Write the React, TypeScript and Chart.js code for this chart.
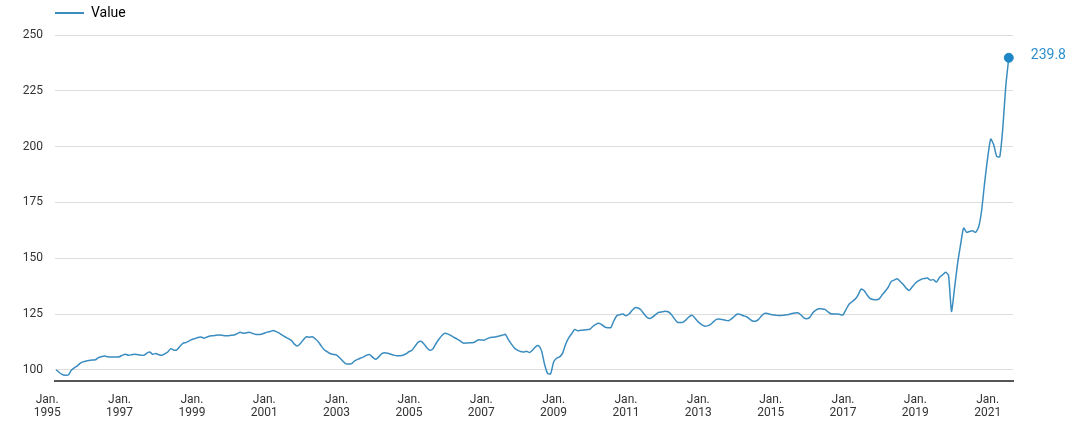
import React, { useEffect, useRef } from "react";
import { Chart, registerables } from "chart.js";

Chart.register(...registerables);

// Monthly index values. Month index 0 = January 1995; the series starts in April 1995.
const FIRST_YEAR = 1995;
const FIRST_MONTH_INDEX = 3;

const years = [
  1995, 1996, 1997, 1998, 1999, 2000, 2001, 2002, 2003, 2004, 2005, 2006, 2007, 2008,
  2009, 2010, 2011, 2012, 2013, 2014, 2015, 2016, 2017, 2018, 2019, 2020, 2021,
];

const valuesByYear: number[][] = [
  [100, 98.8, 97.9, 97.6, 97.7, 99.8, 100.9, 101.8, 103.0],
  [103.7, 104.0, 104.2, 104.4, 104.5, 105.5, 105.9, 106.2, 105.9, 105.7, 105.8, 105.8],
  [105.9, 106.6, 107.0, 106.5, 106.8, 107.0, 106.8, 106.6, 106.5, 107.4, 108.0, 107.0],
  [107.3, 106.8, 106.5, 107.2, 108.0, 109.5, 108.8, 108.9, 110.5, 111.9, 112.2, 112.9],
  [113.6, 114.0, 114.5, 114.7, 114.2, 114.7, 115.2, 115.3, 115.5, 115.6, 115.5, 115.3],
  [115.3, 115.5, 115.6, 116.2, 116.8, 116.4, 116.6, 116.8, 116.4, 115.9, 115.8, 115.9],
  [116.4, 116.9, 117.2, 117.6, 117.1, 116.4, 115.5, 114.7, 114.0, 113.2, 111.5, 110.7],
  [111.8, 113.5, 114.8, 114.6, 114.8, 113.8, 112.5, 110.5, 108.9, 108.0, 107.2, 106.9],
  [106.6, 105.4, 104.0, 102.8, 102.6, 102.8, 104.0, 104.7, 105.3, 105.8, 106.6, 106.8],
  [105.6, 104.7, 105.8, 107.3, 107.7, 107.4, 107.0, 106.6, 106.3, 106.3, 106.5, 107.2],
  [108.1, 108.8, 110.5, 112.3, 112.8, 111.6, 109.8, 108.8, 109.5, 111.8, 113.8, 115.5],
  [116.4, 116.0, 115.3, 114.5, 113.8, 113.0, 112.0, 112.0, 112.1, 112.1, 112.6, 113.4],
  [113.4, 113.3, 114.0, 114.5, 114.6, 114.8, 115.2, 115.5, 115.9, 113.5, 111.5, 109.8],
  [108.8, 108.2, 108.0, 108.3, 107.8, 108.8, 110.3, 110.8, 108.5, 102.5, 98.4, 98.2],
  [103.5, 105.2, 105.8, 107.5, 111.5, 114.3, 116.2, 118.1, 117.5, 117.7, 117.8, 118.0],
  [118.2, 119.4, 120.4, 120.9, 120.2, 119.2, 118.9, 119.0, 122.0, 124.3, 124.7, 125.0],
  [124.2, 125.0, 126.6, 127.8, 127.7, 126.8, 125.0, 123.5, 123.0, 123.8, 125.0, 125.8],
  [126.0, 126.2, 126.0, 124.9, 123.0, 121.4, 121.2, 121.4, 122.5, 123.8, 124.4, 123.0],
  [121.5, 120.4, 119.6, 119.7, 120.3, 121.5, 122.6, 122.8, 122.5, 122.2, 122.0, 122.8],
  [124.0, 125.0, 124.8, 124.2, 123.8, 122.8, 121.9, 121.8, 122.6, 124.2, 125.3, 125.2],
  [124.8, 124.6, 124.4, 124.3, 124.4, 124.6, 124.8, 125.2, 125.5, 125.6, 124.7, 123.3],
  [122.9, 123.5, 125.6, 126.8, 127.4, 127.3, 127.1, 126.0, 125.1, 125.0, 125.0, 124.8],
  [124.6, 127.0, 129.4, 130.5, 131.6, 133.5, 136.2, 135.5, 133.5, 131.9, 131.5, 131.4],
  [131.8, 133.6, 135.2, 137.0, 139.6, 140.2, 140.8, 139.6, 138.2, 136.5, 135.6, 137.2],
  [138.8, 139.8, 140.6, 140.9, 141.1, 140.2, 140.4, 139.3, 141.4, 142.5, 143.7, 142.4],
  [126.2, 136.5, 147.5, 156.0, 163.5, 161.6, 162.0, 162.3, 161.6, 164.0, 171.5, 184.0],
  [195.0, 203.4, 200.8, 195.6, 195.4, 208.0, 227.0, 239.8],
];

const tickYears = [1995, 1997, 1999, 2001, 2003, 2005, 2007, 2009, 2011, 2013, 2015, 2017, 2019, 2021];
const tickMonthLabel = "Jan.";
const yTicks = [100, 125, 150, 175, 200, 225, 250];
const seriesLabel = "Value";

const LINE_COLOR = "#3b8dc0";
const DOT_COLOR = "#1f87c7";
const LABEL_COLOR = "#2e8fcc";
const TEXT_COLOR = "#333333";

export default function App() {
  const ref = useRef<HTMLCanvasElement>(null);

  useEffect(() => {
    const canvas = ref.current;
    if (!canvas) return;
    Chart.defaults.font.family = "Roboto";

    const values = valuesByYear.flat();
    const points = values.map((v, i) => ({ x: FIRST_MONTH_INDEX + i, y: v }));
    const lastIndex = points.length - 1;

    const legendTweak = {
      id: "legendTweak",
      beforeLayout(chart: any) {
        const lg = chart.legend;
        if (lg && !lg.__tweaked) {
          const fit = lg.fit;
          lg.fit = function (this: any) {
            fit.call(this);
            this.height += 5;
          };
          lg.__tweaked = true;
        }
      },
      afterLayout(chart: any) {
        if (chart.legend) chart.legend.left = 49;
      },
    };

    const valueLabel = {
      id: "valueLabel",
      afterDatasetsDraw(chart: any) {
        const meta = chart.getDatasetMeta(0);
        const pt = meta.data[lastIndex];
        if (!pt) return;
        const ctx = chart.ctx;
        ctx.save();
        ctx.font = "14px Roboto";
        ctx.fillStyle = LABEL_COLOR;
        ctx.textAlign = "left";
        ctx.textBaseline = "middle";
        ctx.fillText(values[lastIndex].toFixed(1), pt.x + 22, pt.y - 2);
        ctx.restore();
      },
    };

    const chart = new Chart(canvas, {
      type: "line",
      data: {
        datasets: [
          {
            label: seriesLabel,
            data: points,
            borderColor: LINE_COLOR,
            backgroundColor: LINE_COLOR,
            borderWidth: 1.5,
            tension: 0.2,
            fill: false,
            clip: false as any,
            pointRadius: (c: any) => (c.dataIndex === lastIndex ? 4.5 : 0),
            pointHoverRadius: 0,
            pointBackgroundColor: DOT_COLOR,
            pointBorderColor: DOT_COLOR,
            pointBorderWidth: 1,
          },
        ],
      },
      options: {
        animation: false,
        responsive: true,
        maintainAspectRatio: false,
        layout: { padding: { left: 0, right: 67, top: 0, bottom: 0 } },
        plugins: {
          legend: {
            display: true,
            position: "top",
            align: "start",
            labels: {
              boxWidth: 29,
              boxHeight: 2,
              padding: 6,
              color: TEXT_COLOR,
              font: { family: "Roboto", size: 14 },
              generateLabels: () => [
                {
                  text: seriesLabel,
                  fillStyle: LINE_COLOR,
                  strokeStyle: LINE_COLOR,
                  lineWidth: 0,
                  hidden: false,
                  datasetIndex: 0,
                } as any,
              ],
            },
          },
          tooltip: { enabled: false },
        },
        scales: {
          x: {
            type: "linear",
            min: 2.59,
            max: 320.4,
            bounds: "data",
            afterBuildTicks: (s: any) => {
              s.ticks = tickYears.map((y) => ({ value: (y - FIRST_YEAR) * 12 }));
            },
            afterFit: (s: any) => {
              s.height = 51;
            },
            ticks: {
              autoSkip: false,
              maxRotation: 0,
              minRotation: 0,
              padding: 13,
              color: TEXT_COLOR,
              font: { family: "Roboto", size: 12, lineHeight: 1.05 },
              callback: (v: any) => [tickMonthLabel, String(FIRST_YEAR + Math.round(Number(v) / 12))],
            },
            grid: { display: true, drawOnChartArea: false, drawTicks: false },
            border: { display: true, color: "#555555", width: 2 },
          },
          y: {
            type: "linear",
            min: 95,
            max: 250,
            afterBuildTicks: (s: any) => {
              s.ticks = yTicks.map((v) => ({ value: v }));
            },
            afterFit: (s: any) => {
              s.width = 55;
            },
            ticks: {
              padding: 12,
              color: TEXT_COLOR,
              font: { family: "Roboto", size: 12 },
            },
            grid: { color: "#dddddd", lineWidth: 1, drawTicks: false },
            border: { display: false },
          },
        },
      },
      plugins: [legendTweak, valueLabel],
    } as any);

    return () => chart.destroy();
  }, []);

  return (
    <div style={{ position: "fixed", left: 0, top: 0, width: 1080, height: 432, background: "#ffffff" }}>
      <canvas ref={ref} />
    </div>
  );
}
